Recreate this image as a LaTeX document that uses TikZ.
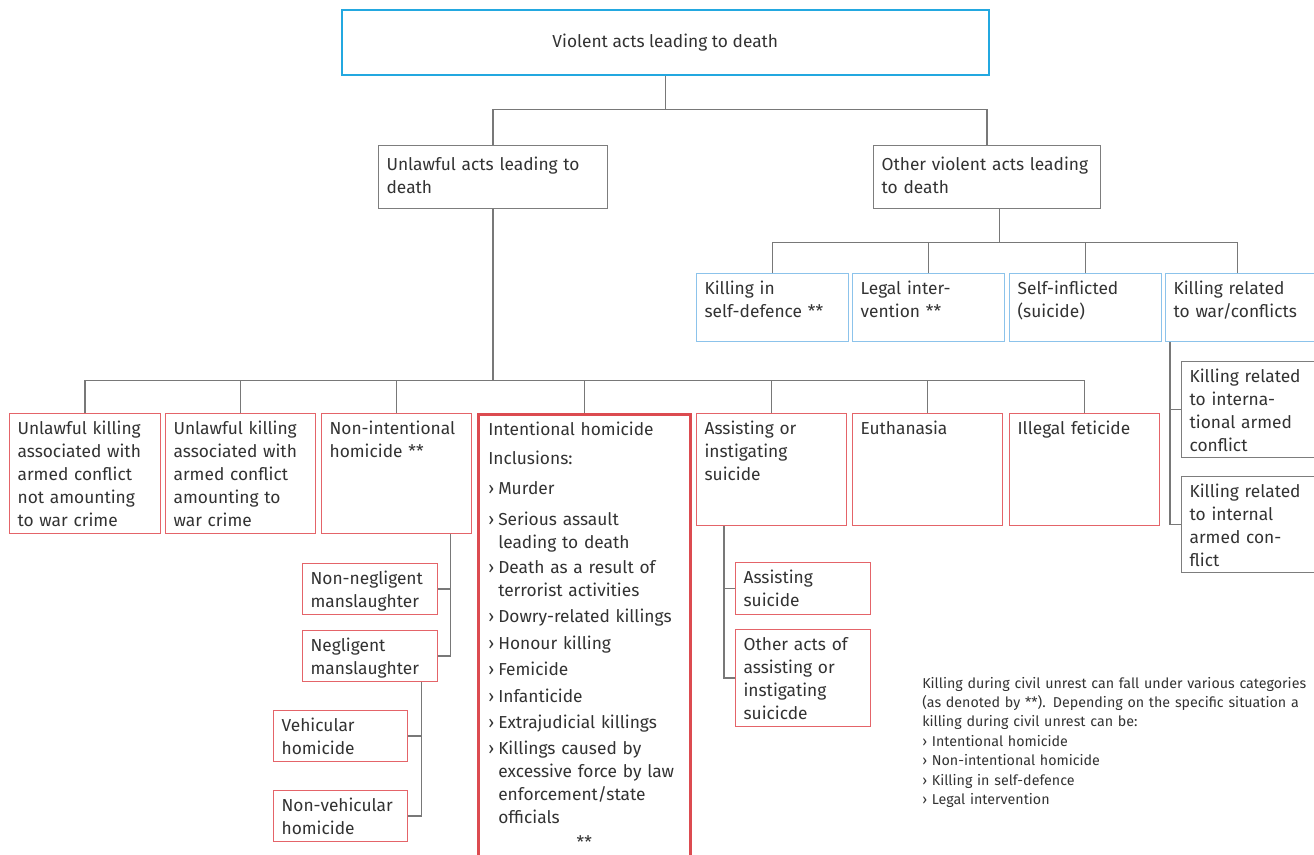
\documentclass[tikz,border=0pt]{standalone}
\usepackage{fontspec}
\setmainfont{Fira Sans}
\definecolor{top_blue}{RGB}{35,168,224}
\definecolor{box_blue}{RGB}{140,195,235}
\definecolor{box_red}{RGB}{228,100,105}
\definecolor{ih_red}{RGB}{220,75,80}
\definecolor{box_gray}{RGB}{125,125,125}
\definecolor{line_gray}{RGB}{120,120,120}
\definecolor{txt_gray}{RGB}{50,50,50}
\tikzstyle{box}=[rectangle,draw,anchor=north west,align=left,text=txt_gray,
  line width=0.9pt,inner xsep=6pt,inner ysep=6pt,text height=10pt]
\tikzstyle{rbox}=[box,draw=box_red]
\tikzstyle{bbox}=[box,draw=box_blue]
\tikzstyle{gbox}=[box,draw=box_gray]
\tikzstyle{link}=[draw=line_gray,line width=1pt]
\tikzstyle{note}=[anchor=base west,align=left,inner sep=0pt,text=txt_gray,
  text width=320pt,font=\fontsize{10.7}{14.6}\selectfont]
\newcommand{\gt}{\leavevmode\rlap{›}\hspace*{7.5pt}}
\begin{document}
\begin{tikzpicture}[x=0.75pt,y=-0.75pt,font=\fontsize{13}{17.25}\selectfont]
        \useasboundingbox (0,0) rectangle (1314,854);
        \clip (0,0) rectangle (1314,854);
        % top and first level
        \node [anchor=north west,draw=top_blue,line width=1.2pt,text=txt_gray,
          minimum width=485.25pt,minimum height=48.75pt,inner sep=0pt] (top) at (341,9) {Violent acts leading to death};
        \node [style=gbox,inner ysep=8.75pt,text width=159.75pt,text depth=19.75pt] (ua) at (378,145) {Unlawful acts leading to\\death};
        \node [style=gbox,inner ysep=8.75pt,text width=158.25pt,text depth=19.75pt] (ov) at (873,145) {Other violent acts leading\\to death};
        % other violent acts
        \node [style=bbox,text width=102pt,text depth=29pt] (sd) at (696,273) {Killing in\\self-defence **};
        \node [style=bbox,text width=102pt,text depth=29pt] (li) at (852,273) {Legal inter-\\vention **};
        \node [style=bbox,text width=102pt,text depth=29pt] (si) at (1009,273) {Self-inflicted\\(suicide)};
        \node [style=bbox,text width=102pt,text depth=29pt] (kw) at (1165,273) {Killing related\\to war/conflicts};
        \node [style=gbox,text width=100.5pt,text depth=50pt] (kia) at (1181,361) {Killing related\\to interna-\\tional armed\\conflict};
        \node [style=gbox,text width=100.5pt,text depth=50pt] (kin) at (1181,476) {Killing related\\to internal\\armed con-\\flict};
        % unlawful acts
        \node [style=rbox,text width=101.25pt,text depth=68pt] (uk1) at (9,413) {Unlawful killing\\associated with\\armed conflict\\not amounting\\to war crime};
        \node [style=rbox,text width=100.5pt,text depth=68pt] (uk2) at (165,413) {Unlawful killing\\associated with\\armed conflict\\amounting to\\war crime};
        \node [style=rbox,text width=100.5pt,text depth=68pt] (ni) at (321,413) {Non-intentional\\homicide **};
        \node [style=rbox,draw=ih_red,line width=1.9pt,inner xsep=7.5pt,text width=144pt,text depth=323pt] (ih) at (477,413) {Intentional homicide\\[4.5pt]
          Inclusions:\\[5pt]
          \gt Murder\\[6.5pt]
          \gt Serious assault\\\hspace*{7.5pt}leading to death\\[1.5pt]
          \gt Death as a result of\\\hspace*{7.5pt}terrorist activities\\[2.2pt]
          \gt Dowry-related killings\\[2.8pt]
          \gt Honour killing\\[2.5pt]
          \gt Femicide\\[2.5pt]
          \gt Infanticide\\[2.5pt]
          \gt Extrajudicial killings\\[2.5pt]
          \gt Killings caused by\\\hspace*{7.5pt}excessive force by law\\\hspace*{7.5pt}enforcement/state\\\hspace*{7.5pt}officials\\[1pt]
          \hspace*{\fill}**\hspace*{\fill}};
        \node [style=rbox,text width=100.5pt,text depth=62pt] (ais) at (696,413) {Assisting or\\instigating\\suicide};
        \node [style=rbox,text width=100.5pt,text depth=62pt] (eu) at (852,413) {Euthanasia};
        \node [style=rbox,text width=100.5pt,text depth=62pt] (fe) at (1009,413) {Illegal feticide};
        \node [style=rbox,text width=89.25pt,text depth=16.25pt] (nnm) at (302,563) {Non-negligent\\manslaughter};
        \node [style=rbox,text width=89.25pt,text depth=16.25pt] (nm) at (302,630) {Negligent\\manslaughter};
        \node [style=rbox,text width=88.5pt,text depth=16.25pt] (vh) at (273,710) {Vehicular\\homicide};
        \node [style=rbox,text width=88.5pt,text depth=16.25pt] (nvh) at (273,790) {Non-vehicular\\homicide};
        \node [style=rbox,text width=89.25pt,text depth=17pt] (as) at (735,562) {Assisting\\suicide};
        \node [style=rbox,text width=89.25pt,text depth=50.75pt] (oa) at (735,629) {Other acts of\\assisting or\\instigating\\suicicde};
        % connectors
        \draw [style=link] (top.south) -- ++(0,34) coordinate (j1) -| (ua.north);
        \draw [style=link] (j1) -| (ov.north);
        \draw [style=link] ([xshift=9.4pt]ov.south) -- ++(0,33) coordinate (j2);
        \draw [style=link] (sd.north) |- (j2) -| ([xshift=-3pt]kw.north);
        \draw [style=link] (li.north) -- (li.north |- j2);
        \draw [style=link] (si.north) -- (si.north |- j2);
        \draw [style=link] (ua.south) -- ++(0,171) coordinate (j3);
        \draw [style=link] (uk1.north) |- (j3) -| (fe.north);
        \foreach \n in {uk2,ni,ih,ais,eu}
            \draw [style=link] (\n.north) -- (\n.north |- j3);
        \draw [style=link] (nm.east) -- ++(12,0) coordinate (k1) -- (k1 |- ni.south);
        \draw [style=link] (nnm.east) -- (nnm.east -| k1);
        \draw [style=link] (nvh.east) -- ++(13,0) coordinate (k2) -- (k2 |- nm.south);
        \draw [style=link] (vh.east) -- (vh.east -| k2);
        \draw [style=link] (oa.west) -- ++(-11,0) coordinate (k3) -- (k3 |- ais.south);
        \draw [style=link] (as.west) -- (as.west -| k3);
        \draw [style=link] (kin.west) -- ++(-11,0) coordinate (k4) -- (k4 |- kw.south);
        \draw [style=link] (kia.west) -- (kia.west -| k4);
        % note
        \node [style=note] (fn) at (922,688) {Killing during civil unrest can fall under various categories\\
          (as denoted by **). Depending on the specific situation a\\
          killing during civil unrest can be:\\
          › Intentional homicide\\
          › Non-intentional homicide\\
          › Killing in self-defence\\
          › Legal intervention};
    \end{tikzpicture}
\end{document}
